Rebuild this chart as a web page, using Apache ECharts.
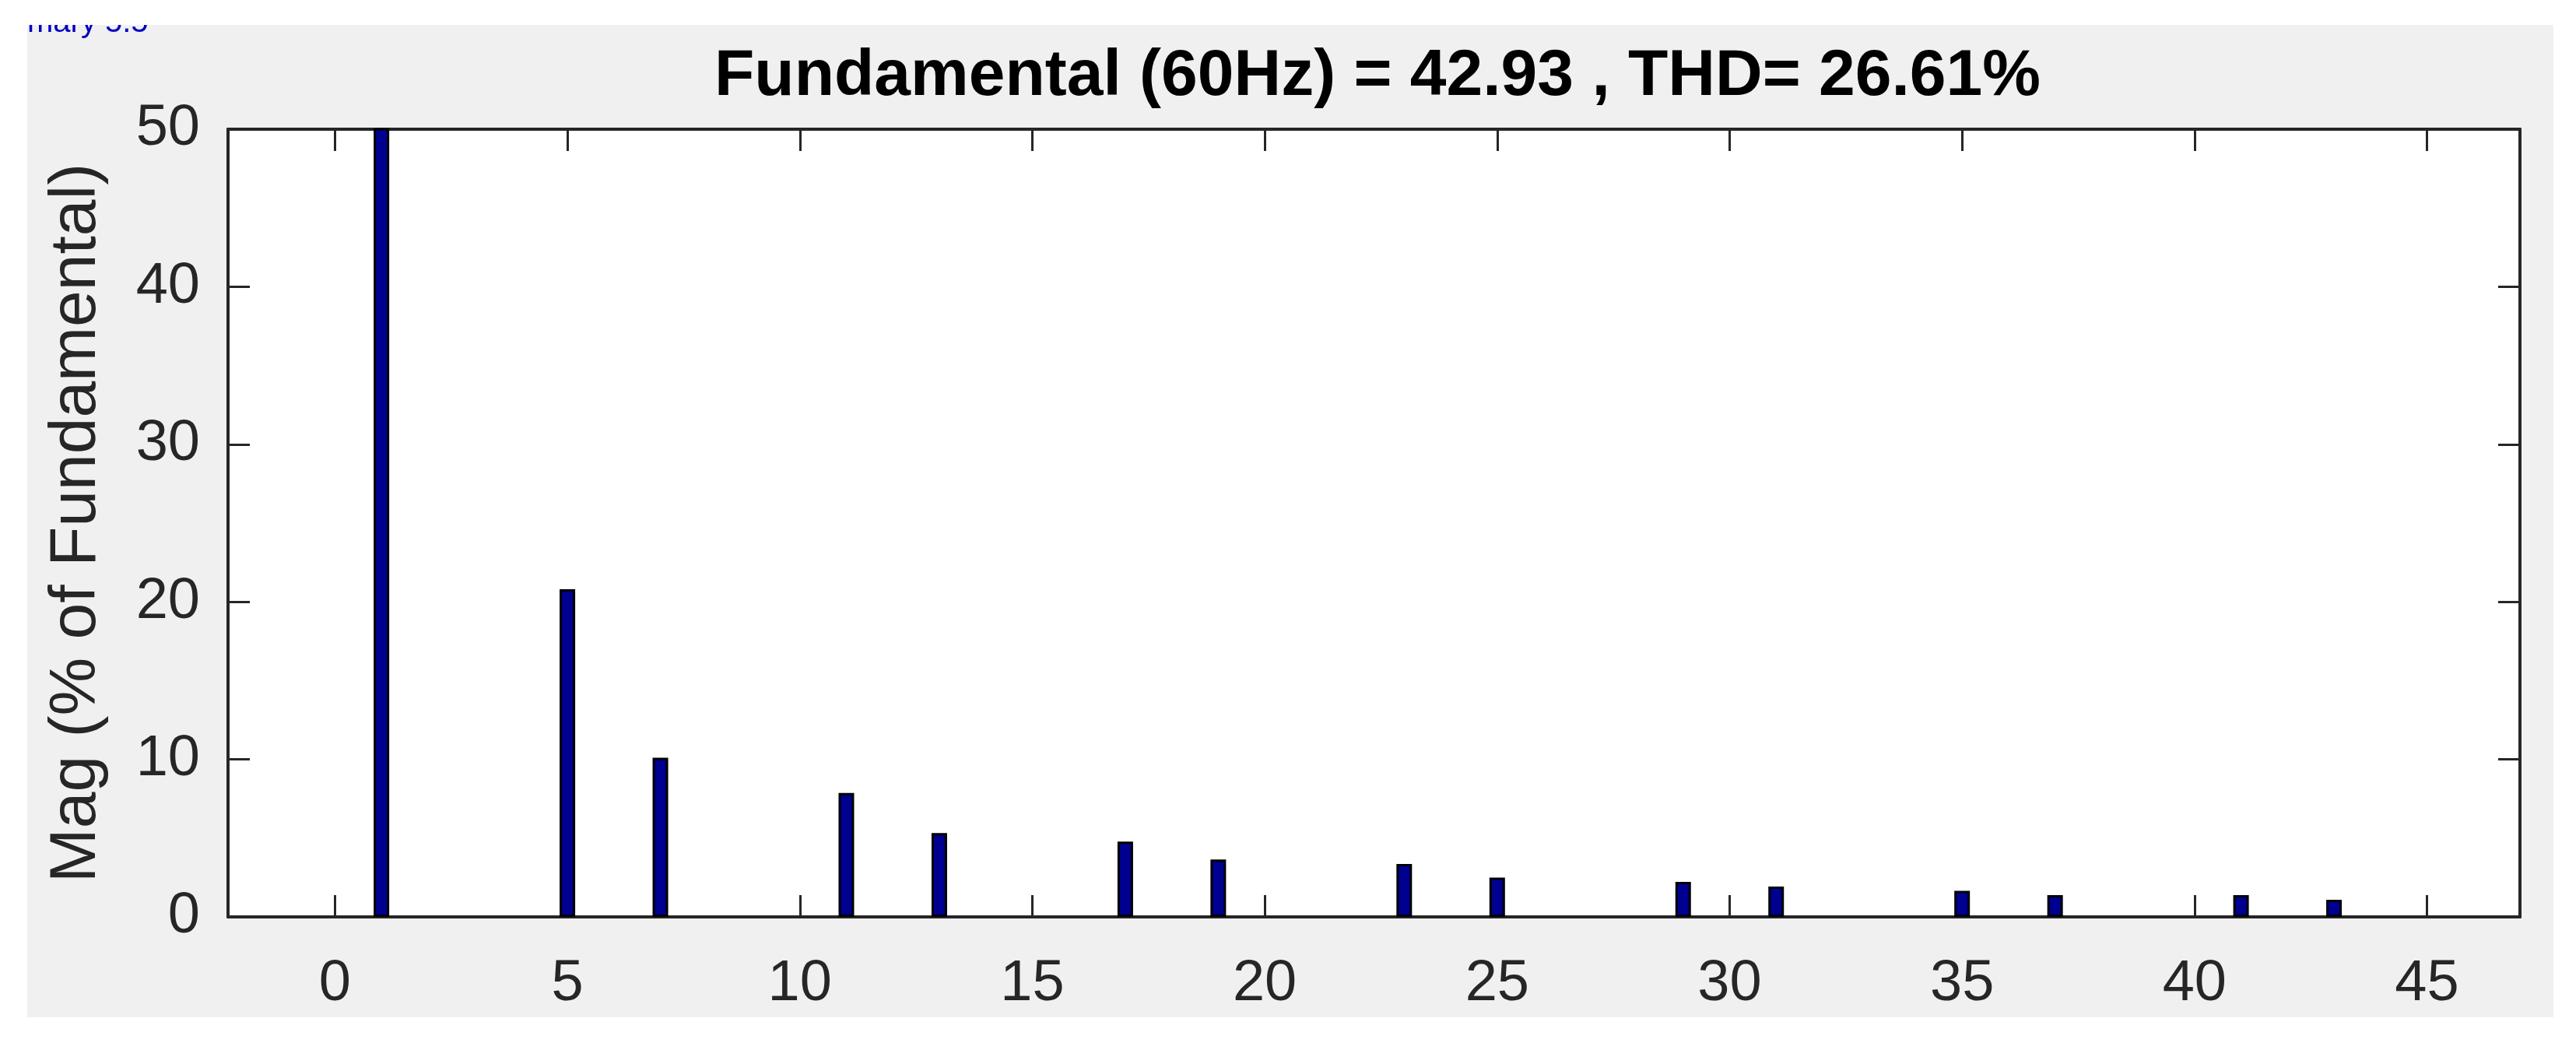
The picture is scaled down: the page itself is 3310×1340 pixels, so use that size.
<!DOCTYPE html>
<html>
<head>
<meta charset="utf-8">
<title>FFT harmonics</title>
<script src="https://cdn.jsdelivr.net/npm/echarts@6/dist/echarts.min.js"></script>
<style>
  html, body { margin: 0; padding: 0; background: #fff; }
  #chart { width: 3310px; height: 1340px; }
</style>
</head>
<body>
<div id="chart"></div>
<script>
// harmonic order and magnitude (% of fundamental)
const harmonics = [1, 5, 7, 11, 13, 17, 19, 23, 25, 29, 31, 35, 37, 41, 43];
const magnitudes = [100, 20.8, 10.1, 7.87, 5.32, 4.78, 3.64, 3.36, 2.5, 2.22, 1.93, 1.66, 1.38, 1.38, 1.09];
const xTicks = [0, 5, 10, 15, 20, 25, 30, 35, 40, 45];

const titleText = "Fundamental (60Hz) = 42.93 , THD= 26.61%";
const yLabel = "Mag (% of Fundamental)";

const axisColor = "#262626";
const font = "Liberation Sans, Arial, Helvetica, sans-serif";

const chart = echarts.init(document.getElementById("chart"));

const barData = harmonics.map((h, i) => [h, magnitudes[i]]);

function xAxisDef(pos, showLabel) {
  return {
    type: "value",
    position: pos,
    min: -2.3,
    max: 47,
    axisLine: { show: true, onZero: false, lineStyle: { color: axisColor, width: 4 } },
    axisTick: {
      show: true, inside: true, length: 28, customValues: xTicks,
      lineStyle: { color: axisColor, width: 3 }
    },
    axisLabel: {
      show: showLabel, customValues: xTicks, margin: 50,
      fontSize: 74, fontFamily: font, color: axisColor
    },
    splitLine: { show: false }
  };
}

function yAxisDef(pos, showLabel) {
  return {
    type: "value",
    position: pos,
    min: 0,
    max: 50,
    interval: 10,
    axisLine: { show: true, onZero: false, lineStyle: { color: axisColor, width: 4 } },
    axisTick: { show: true, inside: true, length: 28, lineStyle: { color: axisColor, width: 3 } },
    axisLabel: {
      show: showLabel, margin: 36,
      fontSize: 74, fontFamily: font, color: axisColor
    },
    splitLine: { show: false }
  };
}

const yMain = yAxisDef("left", true);
yMain.name = yLabel;
yMain.nameLocation = "middle";
yMain.nameRotate = 90;
yMain.nameGap = 152;
yMain.nameTextStyle = { fontSize: 84, fontFamily: font, color: axisColor };

const option = {
  backgroundColor: "#F0F0F0",
  animation: false,
  title: {
    text: titleText,
    left: 1765,
    textAlign: "center",
    top: 52,
    textStyle: { fontSize: 84, fontWeight: "bold", fontFamily: font, color: "#000" }
  },
  grid: {
    left: 293, right: 72, top: 166, bottom: 162,
    show: true, backgroundColor: "#fff", borderWidth: 0
  },
  xAxis: [xAxisDef("bottom", true), xAxisDef("top", false)],
  yAxis: [yMain, yAxisDef("right", false)],
  graphic: [
    // clipped window caption in the top-left corner
    {
      type: "text", left: 35, top: 10, z: 10,
      style: { text: "mary 5.5", fontSize: 40, fontFamily: font, fill: "#0000C0" }
    },
    { type: "rect", shape: { x: 0, y: 0, width: 3310, height: 32 }, style: { fill: "#fff" }, z: 11 },
    { type: "rect", shape: { x: 0, y: 0, width: 35, height: 1340 }, style: { fill: "#fff" }, z: 11 },
    { type: "rect", shape: { x: 3281, y: 0, width: 29, height: 1340 }, style: { fill: "#fff" }, z: 11 },
    { type: "rect", shape: { x: 0, y: 1307, width: 3310, height: 33 }, style: { fill: "#fff" }, z: 11 }
  ],
  series: [
    {
      type: "bar",
      data: barData,
      barWidth: 20,
      clip: true,
      itemStyle: { color: "#000090", borderColor: "#000", borderWidth: 3 }
    }
  ]
};

chart.setOption(option);
</script>
</body>
</html>
